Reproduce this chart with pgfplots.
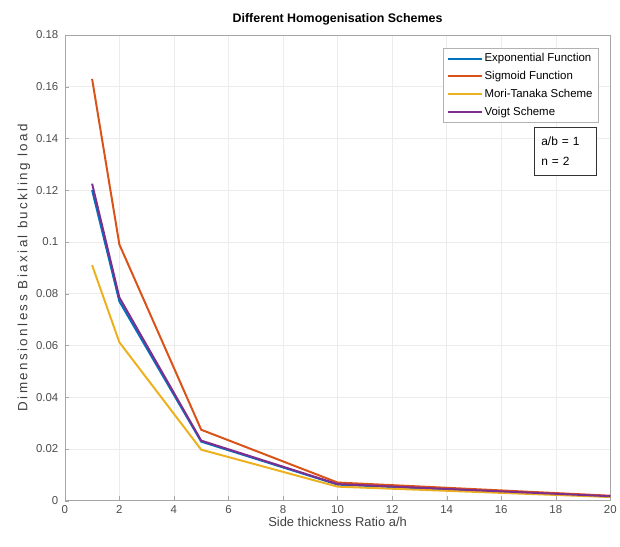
\documentclass[border=0pt]{standalone}
\usepackage{pgfplots}
\pgfplotsset{compat=1.18}
\usepackage{fontspec}
\setmainfont{Liberation Sans}
\newfontfamily\spacedfont[LetterSpace=18]{Liberation Sans}
\definecolor{mblue}{rgb}{0,0.447,0.741}
\definecolor{morange}{rgb}{0.85,0.325,0.098}
\definecolor{myellow}{rgb}{0.929,0.694,0.125}
\definecolor{mpurple}{rgb}{0.494,0.184,0.556}
\begin{document}
\begin{tikzpicture}
\begin{axis}[
  scale only axis,
  width=547bp, height=467bp,
  xmin=0, xmax=20, ymin=0, ymax=0.18,
  xtick={0,2,...,20},
  ytick={0,0.02,...,0.18},
  yticklabel style={xshift=-3pt, /pgf/number format/fixed, /pgf/number format/precision=2},
  scaled y ticks=false,
  /pgf/number format/assume math mode=true,
  ticklabel style={font=\fontsize{11.5}{13}\selectfont, text=black!70},
  xticklabel style={yshift=-1pt},
  grid=major,
  grid style={gray!15, line width=0.5pt},
  axis line style={gray!70},
  tick style={gray!70},
  tick align=inside,
  xtick pos=bottom, ytick pos=left,
  title={\bfseries Different Homogenisation Schemes},
  title style={font=\fontsize{12.5}{14}\selectfont, yshift=0pt},
  xlabel={Side thickness Ratio a/h},
  ylabel={\spacedfont Dimensionless Biaxial buckling load},
  label style={text=black!75},
  xlabel style={font=\fontsize{13}{15}\selectfont, yshift=3pt},
  ylabel style={font=\fontsize{13.5}{15}\selectfont, yshift=-1pt},
  legend style={at={(0.978,0.972)}, anchor=north east, font=\fontsize{11.5}{13}\selectfont,
    draw=gray!60, line width=0.6pt, row sep=4pt, inner sep=3.5pt},
  legend cell align=left,
  legend image post style={line width=2pt},
  legend image code/.code={\draw[#1] (0cm,0cm) -- (1.2cm,0cm);},
  every axis plot/.append style={line width=2pt},
]
\addplot[mblue] coordinates {(1,0.120) (2,0.077) (5,0.0228) (10,0.0062) (20,0.0016)};
\addlegendentry{Exponential Function}
\addplot[morange] coordinates {(1,0.163) (2,0.099) (5,0.0274) (10,0.0070) (20,0.0019)};
\addlegendentry{Sigmoid Function}
\addplot[myellow] coordinates {(1,0.091) (2,0.0612) (5,0.0197) (10,0.0054) (20,0.0014)};
\addlegendentry{Mori-Tanaka Scheme}
\addplot[mpurple] coordinates {(1,0.1225) (2,0.0785) (5,0.0232) (10,0.0064) (20,0.0017)};
\addlegendentry{Voigt Scheme}
\node[draw=black!80, line width=0.6pt, anchor=north east, align=left, fill=white,
  font=\fontsize{12}{20}\selectfont, inner xsep=7pt, inner ysep=10pt, text width=48bp] at (axis cs:19.49,0.1445) {a/b = 1\\n = 2};
\end{axis}
\path ([xshift=-65bp,yshift=-46bp]current axis.south west) rectangle ([xshift=8bp,yshift=35bp]current axis.north east);
\end{tikzpicture}
\end{document}
